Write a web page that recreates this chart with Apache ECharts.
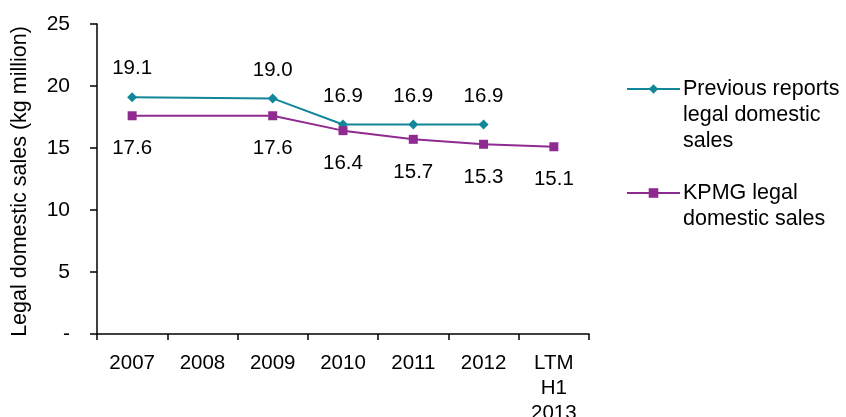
<!DOCTYPE html>
<html>
<head>
<meta charset="utf-8">
<script src="https://cdn.jsdelivr.net/npm/echarts@6/dist/echarts.min.js"></script>
<style>
html,body{margin:0;padding:0;background:#fff;}
#main{width:846px;height:417px;}
</style>
</head>
<body>
<div id="main"></div>
<script>
const categories = ['2007', '2008', '2009', '2010', '2011', '2012', 'LTM\nH1\n2013'];
const previousReports = [19.1, null, 19.0, 16.9, 16.9, 16.9, null];
const kpmgSales = [17.6, null, 17.6, 16.4, 15.7, 15.3, 15.1];
const seriesNames = ['Previous reports legal domestic sales', 'KPMG legal domestic sales'];
const legendTexts = ['\n\nPrevious reports\nlegal domestic\nsales', '\nKPMG legal\ndomestic sales'];
const yTicks = { min: 0, max: 25, interval: 5 };

const FONT = '"Liberation Sans", Arial, sans-serif';
const TEAL = '#13879a';
const PURPLE = '#8f2a91';

const chart = echarts.init(document.getElementById('main'), null, { renderer: 'canvas' });
chart.setOption({
  backgroundColor: '#ffffff',
  animation: false,
  textStyle: { fontFamily: FONT },
  grid: { left: 97, right: 257, top: 24, bottom: 83, containLabel: false, outerBoundsMode: 'none' },
  legend: [0, 1].map(i => ({
    data: [seriesNames[i]],
    orient: 'vertical',
    left: 621,
    top: i === 0 ? 19 : 149,
    itemWidth: 53,
    itemHeight: 12,
    itemGap: 0,
    formatter: () => legendTexts[i],
    textStyle: { fontSize: 21.5, color: '#000', lineHeight: 26, fontFamily: FONT, padding: [0, 0, 0, -2] }
  })),
  xAxis: {
    type: 'category',
    data: categories,
    boundaryGap: true,
    axisLine: { lineStyle: { color: '#000', width: 1.5 } },
    axisTick: { show: true, length: 6, alignWithLabel: false, lineStyle: { color: '#000', width: 1.5 } },
    axisLabel: { color: '#000', fontSize: 20.5, lineHeight: 25, margin: 17, fontFamily: FONT, interval: 0 }
  },
  yAxis: {
    type: 'value',
    min: yTicks.min, max: yTicks.max, interval: yTicks.interval,
    name: 'Legal domestic sales (kg million)',
    nameLocation: 'middle',
    nameGap: 66,
    nameRotate: 90,
    nameTextStyle: { color: '#000', fontSize: 21.5, fontFamily: FONT, padding: [0, 5, 0, 0] },
    axisLine: { show: true, lineStyle: { color: '#000', width: 1.5 } },
    axisTick: { show: true, length: 7, lineStyle: { color: '#000', width: 1.5 } },
    splitLine: { show: false },
    axisLabel: {
      color: '#000', fontSize: 21, margin: 27, fontFamily: FONT,
      formatter: v => v === 0 ? '-' : String(v)
    }
  },
  series: [
    {
      name: seriesNames[0],
      type: 'line',
      data: previousReports,
      connectNulls: true,
      color: TEAL,
      symbol: 'diamond',
      symbolSize: 10,
      lineStyle: { color: TEAL, width: 2 },
      itemStyle: { color: TEAL },
      label: {
        show: true, position: 'top', distance: 13,
        color: '#000', fontSize: 20.5, fontFamily: FONT,
        formatter: p => p.value == null ? '' : p.value.toFixed(1)
      }
    },
    {
      name: seriesNames[1],
      type: 'line',
      data: kpmgSales,
      connectNulls: true,
      color: PURPLE,
      symbol: 'rect',
      symbolSize: 9,
      lineStyle: { color: PURPLE, width: 2 },
      itemStyle: { color: PURPLE },
      label: {
        show: true, position: 'bottom', distance: 18,
        color: '#000', fontSize: 20.5, fontFamily: FONT,
        formatter: p => p.value == null ? '' : p.value.toFixed(1)
      }
    }
  ]
});
</script>
</body>
</html>
